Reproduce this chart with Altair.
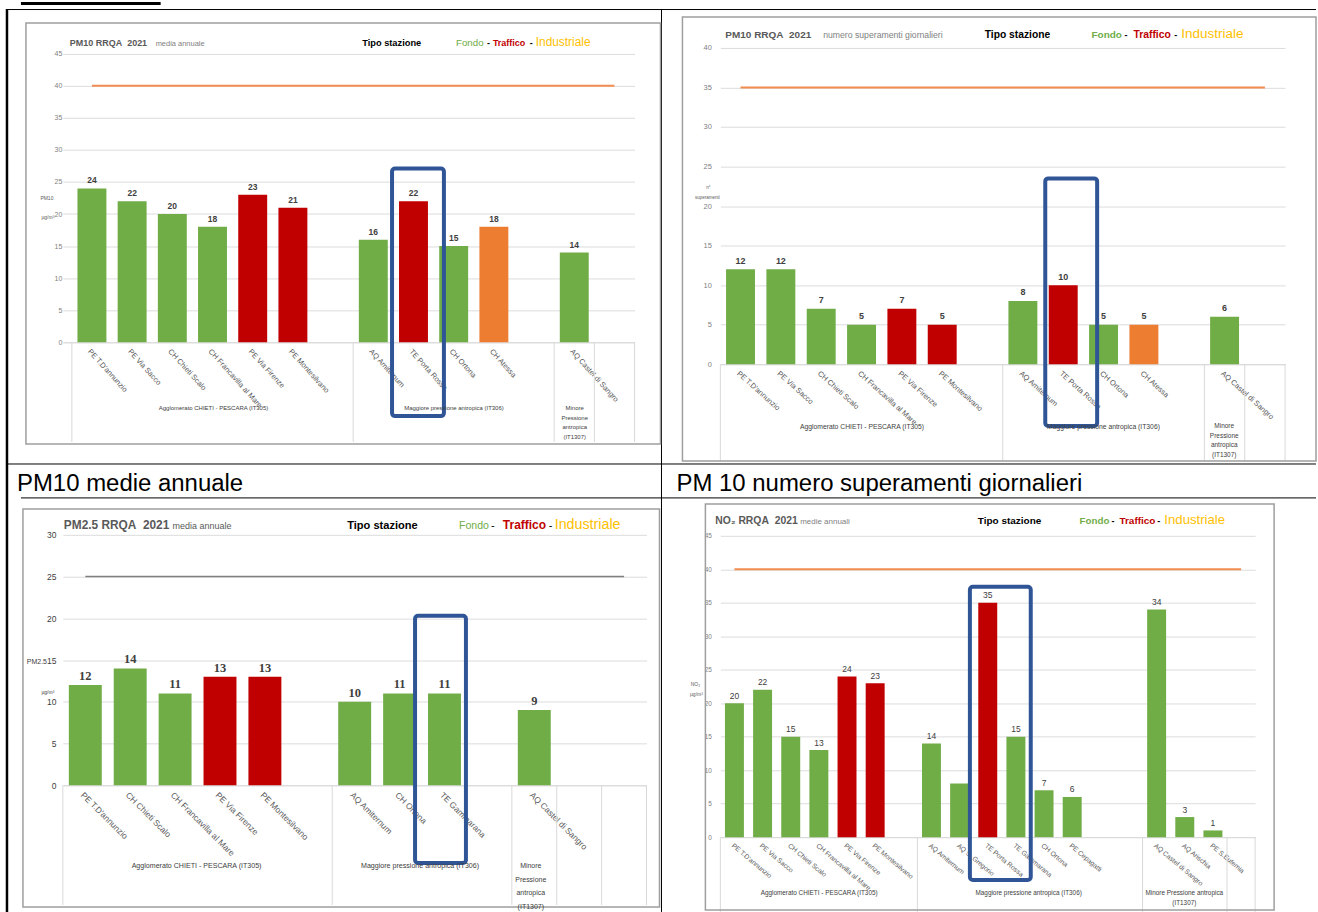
import altair as alt
import pandas as pd

FONT = "Liberation Sans"
GREEN, RED, ORANGE, YELLOW, BLUE = "#70AD47", "#C00000", "#ED7D31", "#FFC000", "#2F5597"
LINE_ORANGE = "#F28C50"
GRID = "#dcdcdc"
SEP = "#d9d9d9"
TYPES = ["Fondo", "Traffico", "Industriale"]

# ---------------- data ----------------
pm10_stations = ["PE T.D'annunzio", "PE Via Sacco", "CH Chieti Scalo", "CH Francavilla al Mare",
                 "PE Via Firenze", "PE Montesilvano", " ", "AQ Amiternum", "TE Porta Rossa",
                 "CH Ortona", "CH Atessa", "  ", "AQ Castel di Sangro", "   "]
pm10_types = ["Fondo", "Fondo", "Fondo", "Fondo", "Traffico", "Traffico", None, "Fondo",
              "Traffico", "Fondo", "Industriale", None, "Fondo", None]
pm10_annual = [24, 22, 20, 18, 23, 21, None, 16, 22, 15, 18, None, 14, None]
pm10_exceedances = [12, 12, 7, 5, 7, 5, None, 8, 10, 5, 5, None, 6, None]

pm25_stations = ["PE T.D'annunzio", "CH Chieti Scalo", "CH Francavilla al Mare", "PE Via Firenze",
                 "PE Montesilvano", " ", "AQ Amiternum", "CH Ortona", "TE Gammarana", "  ",
                 "AQ Castel di Sangro", "   ", "    "]
pm25_types = ["Fondo", "Fondo", "Fondo", "Traffico", "Traffico", None, "Fondo", "Fondo",
              "Fondo", None, "Fondo", None, None]
pm25_annual = [12, 14, 11, 13, 13, None, 10, 11, 11, None, 9, None, None]

no2_stations = ["PE T.D'annunzio", "PE Via Sacco", "CH Chieti Scalo", "CH Francavilla al Mare",
                "PE Via Firenze", "PE Montesilvano", " ", "AQ Amiternum", "AQ S. Gregorio",
                "TE Porta Rossa", "TE Gammarana", "CH Ortona", "PE Cepagatti", "  ", "   ",
                "AQ Castel di Sangro", "AQ Arischia", "PE S.Eufemia", "    "]
no2_types = ["Fondo", "Fondo", "Fondo", "Fondo", "Traffico", "Traffico", None, "Fondo", "Fondo",
             "Traffico", "Fondo", "Fondo", "Fondo", None, None, "Fondo", "Fondo", "Fondo", None]
no2_annual = [20, 22, 15, 13, 24, 23, None, 14, 8, 35, 15, 7, 6, None, None, 34, 3, 1, None]
no2_unlabelled = ["AQ S. Gregorio"]

pm10_limit, pm10_exceed_limit, pm25_limit, no2_limit = 40, 35, 25, 40
group1 = "Agglomerato CHIETI - PESCARA (IT305)"
group2 = "Maggiore pressione antropica (IT306)"
minor4 = ["Minore", "Pressione", "antropica", "(IT1307)"]
minor2 = ["Minore Pressione antropica", "(IT1307)"]

ONE = pd.DataFrame({"k": [0]})


def txt(s, x, y, size, color="#000000", weight="normal", align="left", font=FONT, lh=None):
    kw = dict(fontSize=size, color=color, fontWeight=weight, align=align, font=font,
              baseline="alphabetic")
    if lh:
        kw["lineHeight"] = lh
    return alt.Chart(ONE).mark_text(**kw).encode(
        x=alt.value(x), y=alt.value(y), text=alt.value(s))


def box(x, x2, y, y2, color, sw, opacity=1.0):
    return alt.Chart(ONE).mark_rect(fillOpacity=0, stroke=color, strokeWidth=sw,
                                    strokeOpacity=opacity).encode(
        x=alt.value(x), x2=alt.value(x2), y=alt.value(y), y2=alt.value(y2))


def hline(x, x2, y, color="#000000", sw=1.0):
    return alt.Chart(ONE).mark_rule(color=color, strokeWidth=sw).encode(
        x=alt.value(x), x2=alt.value(x2), y=alt.value(y))


def vline(x, y, y2, color="#000000", sw=1.0):
    return alt.Chart(ONE).mark_rule(color=color, strokeWidth=sw).encode(
        x=alt.value(x), y=alt.value(y), y2=alt.value(y2))


def panel(c):
    cats, vals, types = c["cats"], c["vals"], c["types"]
    df = pd.DataFrame({"cat": cats, "v": vals, "t": types}).dropna(subset=["v"])
    xscale = alt.Scale(domain=cats, paddingInner=0, paddingOuter=c.get("po", 0), align=1)
    xaxis = alt.Axis(title=None, labelAngle=c["angle"], labelAlign="left", labelBaseline="top",
                     labelFontSize=c["xfs"], labelColor="#595959", labelFont=FONT, ticks=False,
                     domainColor=SEP, labelPadding=c["xpad"], labelOverlap=False, grid=False,
                     labelLimit=300)
    yscale = alt.Scale(domain=[0, c["ymax"]], nice=False, zero=True)
    yaxis = alt.Axis(title=None, values=c["yticks"], labelFontSize=c["yfs"],
                     labelColor=c["ycolor"], labelPadding=c["ypad"], ticks=False, domain=False,
                     gridColor=GRID, labelFont=FONT)

    def X(field="cat", **kw):
        return alt.X(f"{field}:N", scale=xscale, axis=xaxis, **kw)

    def Y(field="v", **kw):
        return alt.Y(f"{field}:Q", scale=yscale, axis=yaxis, **kw)

    layers = []
    bars = alt.Chart(df).mark_bar(width=c["bw"]).encode(
        x=X(), y=Y(),
        color=alt.Color("t:N", scale=alt.Scale(domain=TYPES, range=[GREEN, RED, ORANGE]),
                        legend=None))
    layers.append(bars)
    lab_df = df[~df["cat"].isin(c.get("unlabelled", []))]
    labels = alt.Chart(lab_df).mark_text(
        dy=c["lab_dy"], baseline="alphabetic", fontSize=c["lab_size"], font=c["lab_font"],
        fontWeight=c["lab_weight"], color="#404040").encode(
        x=X(), y=Y(), text=alt.Text("v:Q", format="d"))
    layers.append(labels)
    thr = pd.DataFrame({"cat": [cats[0]], "cat2": [cats[-1]], "v": [c["thr"]]})
    layers.append(alt.Chart(thr).mark_rule(color=c["thr_color"], strokeWidth=c["thr_w"]).encode(
        x=X(), x2=alt.X2("cat2"), y=Y()))
    H = c["H"]
    seps = pd.DataFrame({"cat": c["seps"]})
    layers.append(alt.Chart(seps).mark_rule(color=SEP, strokeWidth=1).encode(
        x=X(bandPosition=0), y=alt.value(H), y2=alt.value(H + c["sep_len"])))
    sep_end = pd.DataFrame({"cat": [cats[-1]]})
    layers.append(alt.Chart(sep_end).mark_rule(color=SEP, strokeWidth=1).encode(
        x=X(bandPosition=1), y=alt.value(H), y2=alt.value(H + c["sep_len"])))
    bcat, btop, bbottom, bwid, boff = c["box"]
    bdf = pd.DataFrame({"cat": [bcat], "top": [btop]})
    layers.append(alt.Chart(bdf).mark_bar(
        width=bwid, xOffset=boff, fillOpacity=0, stroke=BLUE, strokeWidth=4,
        cornerRadius=3).encode(x=X(), y=Y("top", stack=False), y2=alt.value(bbottom)))
    return layers


def header(y, items):
    return [txt(s, x, y, size, color, weight) for (s, x, size, color, weight) in items]


# ---------------- top-left: PM10 annual ----------------
tl_cfg = dict(cats=pm10_stations, vals=pm10_annual, types=pm10_types, W=573, H=295,
              ymax=45.91, yticks=list(range(0, 46, 5)), po=0.1117, bw=29, angle=48, xfs=7.5,
              xpad=5, yfs=7, ycolor="#7f7f7f", ypad=1, thr=pm10_limit, thr_color=LINE_ORANGE,
              thr_w=2, lab_size=8.5, lab_font=FONT, lab_weight="bold", lab_dy=-5,
              seps=["PE T.D'annunzio", "AQ Amiternum", "AQ Castel di Sangro", "   "],
              sep_len=100, box=("TE Porta Rossa", 27.1, 369, 52, 4.5))
tl_dec = [
    box(-62, 1256, -46, 866, "#ffffff", 0, 0.0),
    hline(-42, 98, -44.5, "#000000", 3),
    hline(-57, 1256, -38.5, "#000000", 1),
    vline(-56, -39, 866, "#000000", 2.5),
    vline(600, -39, 866, "#000000", 1),
    hline(-57, 1256, 417, "#000000", 1),
    hline(-42, 1256, 451, "#000000", 1),
    box(-37, 599, -25, 397, "#9e9e9e", 1.5),
    txt("PM10 medie annuale", -46, 444, 24),
    txt("PM 10 numero superamenti giornalieri", 615, 444, 24),
]
tl_text = header(-2, [
    ("PM10 RRQA\u00a0 2021", 7, 9, "#595959", "bold"),
    ("media annuale", 93, 7.5, "#7f7f7f", "normal"),
    ("Tipo stazione", 300, 9.3, "#000000", "bold"),
    ("Fondo", 394, 9.8, GREEN, "normal"),
    ("-", 425, 9, "#000000", "bold"),
    ("Traffico", 431, 9, RED, "bold"),
    ("-", 468, 9, "#000000", "bold"),
    ("Industriale", 474, 11.9, YELLOW, "normal"),
]) + [
    txt("PM10", -16, 152, 5, "#595959", align="center"),
    txt("µg/m³", -15, 171, 5, "#595959", align="center"),
    txt(group1, 151, 363, 6, "#404040", align="center"),
    txt(group2, 392, 363, 6, "#404040", align="center"),
    txt(minor4, 513, 363, 6, "#404040", align="center", lh=9.7),
]
TL = alt.layer(*(tl_dec + panel(tl_cfg) + tl_text)).properties(width=573, height=295)

# ---------------- top-right: PM10 exceedances ----------------
tr_cfg = dict(cats=pm10_stations, vals=pm10_exceedances, types=pm10_types, W=566, H=317,
              ymax=40, yticks=list(range(0, 41, 5)), po=0, bw=29, angle=42, xfs=7.5,
              xpad=5, yfs=7.5, ycolor="#7f7f7f", ypad=9, thr=pm10_exceed_limit,
              thr_color=LINE_ORANGE, thr_w=2, lab_size=9, lab_font=FONT, lab_weight="bold",
              lab_dy=-5.5,
              seps=["PE T.D'annunzio", "AQ Amiternum", "AQ Castel di Sangro", "   "],
              sep_len=97, box=("TE Porta Rossa", 23.5, 379, 52, 8))
tr_text = [box(-38, 597, -31, 414, "#9e9e9e", 1.5)] + header(-10, [
    ("PM10 RRQA\u00a0 2021", 5, 10, "#595959", "bold"),
    ("numero superamenti giornalieri", 103, 8.7, "#7f7f7f", "normal"),
    ("Tipo stazione", 265, 10.3, "#000000", "bold"),
    ("Fondo", 372, 10, GREEN, "bold"),
    ("-", 405, 9, "#000000", "bold"),
    ("Traffico", 414, 10.4, RED, "bold"),
    ("-", 455, 9, "#000000", "bold"),
    ("Industriale", 462, 13.5, YELLOW, "normal"),
]) + [
    txt("n°", -12, 141, 4.5, "#595959", align="center"),
    txt("superamenti", -13, 151, 4.5, "#595959", align="center"),
    txt(group1, 142, 382, 6.8, "#404040", align="center"),
    txt(group2, 384, 382, 6.8, "#404040", align="center"),
    txt(minor4, 505, 381, 6.5, "#404040", align="center", lh=9.7),
]
TR = alt.layer(*(panel(tr_cfg) + tr_text)).properties(width=566, height=317)

# ---------------- bottom-left: PM2.5 annual ----------------
bl_cfg = dict(cats=pm25_stations, vals=pm25_annual, types=pm25_types, W=585, H=251,
              ymax=30, yticks=list(range(0, 31, 5)), po=0, bw=33, angle=45, xfs=8.5,
              xpad=5, yfs=8.5, ycolor="#404040", ypad=7, thr=pm25_limit, thr_color="#7f7f7f",
              thr_w=1.5, lab_size=12.5, lab_font="Liberation Serif", lab_weight="bold",
              lab_dy=-5,
              seps=["PE T.D'annunzio", "AQ Amiternum", "AQ Castel di Sangro", "   ", "    "],
              sep_len=120, box=("TE Gammarana", 20.3, 329, 51, -4))
bl_text = [box(-40, 598, -26, 373, "#9e9e9e", 1.5)] + header(-6, [
    ("PM2.5 RRQA\u00a0 2021", 1, 11.9, "#595959", "bold"),
    ("media annuale", 110, 9, "#595959", "normal"),
    ("Tipo stazione", 285, 11.1, "#000000", "bold"),
    ("Fondo", 397, 10.6, GREEN, "normal"),
    ("-", 429, 11, "#000000", "normal"),
    ("Traffico", 441, 12, RED, "bold"),
    ("-", 487, 11, "#000000", "normal"),
    ("Industriale", 493, 14.3, YELLOW, "normal"),
]) + [
    txt("PM2.5", -26, 129, 7, "#404040", align="center"),
    txt("µg/m³", -15, 160, 5, "#404040", align="center"),
    txt(group1, 134, 334, 7.1, "#404040", align="center"),
    txt(group2, 358, 334, 7.1, "#404040", align="center"),
    txt(minor4, 469, 334, 7, "#404040", align="center", lh=13.7),
]
BL = alt.layer(*(panel(bl_cfg) + bl_text)).properties(width=585, height=251)

# ---------------- bottom-right: NO2 annual ----------------
br_cfg = dict(cats=no2_stations, vals=no2_annual, types=no2_types, W=536, H=303,
              ymax=45.15, yticks=list(range(0, 46, 5)), po=0, bw=19, angle=40, xfs=6.8,
              xpad=5, yfs=6.5, ycolor="#7f7f7f", ypad=9, thr=no2_limit, thr_color=LINE_ORANGE,
              thr_w=2, lab_size=8.5, lab_font=FONT, lab_weight="normal", lab_dy=-4.5,
              unlabelled=no2_unlabelled,
              seps=["PE T.D'annunzio", "AQ Amiternum", "AQ Castel di Sangro", "    "],
              sep_len=75, box=("TE Porta Rossa", 37.4, 346, 61, 12.6))
br_text = [box(-15, 555, -31, 376, "#9e9e9e", 1.5)] + header(-11, [
    ("NO₂ RRQA\u00a0 2021", -5, 10.4, "#595959", "bold"),
    ("medie annuali", 80, 8, "#7f7f7f", "normal"),
    ("Tipo stazione", 258, 10, "#000000", "bold"),
    ("Fondo", 360, 9.8, GREEN, "bold"),
    ("-", 392, 9, "#000000", "bold"),
    ("Traffico", 400, 10, RED, "bold"),
    ("-", 438, 9, "#000000", "bold"),
    ("Industriale", 445, 13.2, YELLOW, "normal"),
]) + [
    txt("NO₂", -25, 152, 5, "#595959", align="center"),
    txt("µg/m³", -24, 162, 5, "#595959", align="center"),
    txt(group1, 99, 361, 6.4, "#404040", align="center"),
    txt(group2, 309, 361, 6.4, "#404040", align="center"),
    txt(minor2, 465, 361, 6.4, "#404040", align="center", lh=10),
]
BR = alt.layer(*(panel(br_cfg) + br_text)).properties(width=536, height=303)

chart = alt.concat(
    TL, TR, BL, BR, columns=2, spacing={"row": 171, "column": 74}, bounds="flush"
).properties(padding=0).configure_view(stroke="transparent")

chart.save("out.html", embed_options={"renderer": "svg", "actions": False})
